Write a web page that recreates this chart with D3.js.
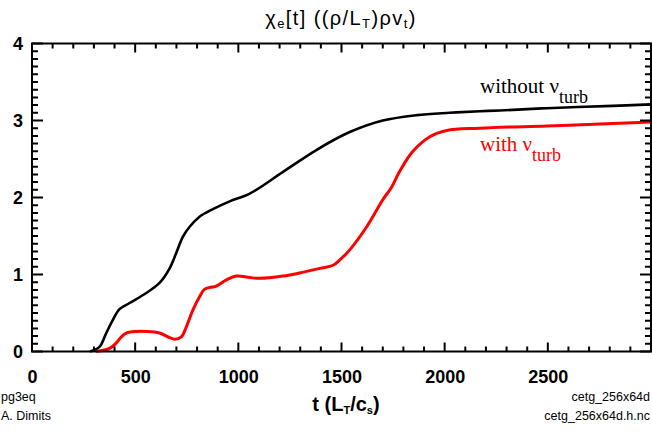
<!DOCTYPE html>
<html>
<head>
<meta charset="utf-8">
<script src="https://cdn.jsdelivr.net/npm/d3@7"></script>
<style>
  html, body { margin: 0; padding: 0; background: #fff; }
  svg { display: block; }
  .sans { font-family: "Liberation Sans", Arial, Helvetica, sans-serif; }
  .serif { font-family: "Liberation Serif", "Times New Roman", serif; }
</style>
</head>
<body>
<svg id="chart" width="652" height="432"></svg>
<script>
// Time axis (t in L_T/c_s) and heat diffusivity chi_e for the two runs
const tWithout = [281, 327, 360, 392, 424, 473, 554, 618, 667, 699, 731, 764, 812, 877, 958, 1055, 1215, 1380, 1540, 1700, 1865, 2025, 2170, 2268, 2495, 2815, 3000];
const chiWithout = [0, 0.06, 0.24, 0.41, 0.55, 0.63, 0.76, 0.89, 1.08, 1.28, 1.49, 1.62, 1.75, 1.85, 1.95, 2.05, 2.33, 2.62, 2.85, 3.0, 3.07, 3.10, 3.12, 3.13, 3.16, 3.19, 3.21];

const tWith = [311, 376, 408, 433, 457, 505, 554, 618, 667, 691, 724, 748, 780, 812, 837, 893, 942, 990, 1055, 1103, 1216, 1297, 1395, 1459, 1492, 1540, 1622, 1700, 1744, 1782, 1846, 1928, 2010, 2170, 2495, 2815, 3000];
const chiWith = [0, 0.04, 0.11, 0.19, 0.24, 0.26, 0.26, 0.24, 0.18, 0.16, 0.19, 0.32, 0.54, 0.71, 0.81, 0.85, 0.93, 0.98, 0.96, 0.95, 0.98, 1.02, 1.08, 1.12, 1.19, 1.32, 1.62, 1.97, 2.14, 2.34, 2.60, 2.79, 2.87, 2.90, 2.93, 2.96, 2.98];

const xMajor = [0, 500, 1000, 1500, 2000, 2500];
const yMajor = [0, 1, 2, 3, 4];
const xMinor = [100, 200, 300, 400, 600, 700, 800, 900, 1100, 1200, 1300, 1400, 1600, 1700, 1800, 1900, 2100, 2200, 2300, 2400, 2600, 2700, 2800, 2900];
const yMinor = [0.1, 0.2, 0.3, 0.4, 0.5, 0.6, 0.7, 0.8, 0.9, 1.1, 1.2, 1.3, 1.4, 1.5, 1.6, 1.7, 1.8, 1.9,
                2.1, 2.2, 2.3, 2.4, 2.5, 2.6, 2.7, 2.8, 2.9, 3.1, 3.2, 3.3, 3.4, 3.5, 3.6, 3.7, 3.8, 3.9];

const svg = d3.select("#chart");
const plotL = 32, plotR = 651, plotT = 43.5, plotB = 351.5;

const x = d3.scaleLinear().domain([0, 3000]).range([plotL, plotR]);
const y = d3.scaleLinear().domain([0, 4]).range([plotB, plotT]);

// tick labels
const xl = svg.append("g").attr("transform", `translate(0,${plotB})`)
  .call(d3.axisBottom(x).tickValues(xMajor).tickSize(0).tickPadding(19).tickFormat(d3.format("d")));
xl.select(".domain").remove();
xl.selectAll("text").attr("class", "sans").attr("font-size", 18).attr("font-weight", "bold").attr("fill", "#000");

const yl = svg.append("g").attr("transform", `translate(${plotL},0)`)
  .call(d3.axisLeft(y).tickValues(yMajor).tickSize(0).tickPadding(9).tickFormat(d3.format("d")));
yl.select(".domain").remove();
yl.selectAll("text").attr("class", "sans").attr("font-size", 18).attr("font-weight", "bold").attr("fill", "#000");

// curves
const line = d3.line().curve(d3.curveCatmullRom.alpha(0.5)).x(d => x(d[0])).y(d => y(d[1]));
svg.append("path").datum(d3.zip(tWithout, chiWithout))
  .attr("d", line).attr("fill", "none").attr("stroke", "#000").attr("stroke-width", 2.6);
svg.append("path").datum(d3.zip(tWith, chiWith))
  .attr("d", line).attr("fill", "none").attr("stroke", "#ff0000").attr("stroke-width", 3);

// frame
svg.append("rect").attr("x", plotL).attr("y", plotT)
  .attr("width", plotR - plotL).attr("height", plotB - plotT)
  .attr("fill", "none").attr("stroke", "#000").attr("stroke-width", 2);

// inward tick marks on all four sides
const tickPath = d3.path();
xMajor.concat(xMinor).forEach(v => {
  const len = xMajor.includes(v) ? 9 : 5;
  tickPath.moveTo(x(v), plotB); tickPath.lineTo(x(v), plotB - len);
  tickPath.moveTo(x(v), plotT); tickPath.lineTo(x(v), plotT + len);
});
yMajor.concat(yMinor).forEach(v => {
  const len = yMajor.includes(v) ? 11 : 6;
  tickPath.moveTo(plotL, y(v)); tickPath.lineTo(plotL + len, y(v));
  tickPath.moveTo(plotR, y(v)); tickPath.lineTo(plotR - len, y(v));
});
svg.append("path").attr("d", tickPath.toString())
  .style("fill", "none").style("stroke", "#000").style("stroke-width", "2px");

// title
const title = svg.append("text").attr("class", "sans").attr("x", 341).attr("y", 25)
  .attr("text-anchor", "middle").attr("font-size", 20).attr("letter-spacing", 1.4).attr("fill", "#000");
title.append("tspan").text("χ");
title.append("tspan").attr("font-size", 13).attr("dy", 3).text("e");
title.append("tspan").attr("dy", -3).text("[t]  ((ρ/L");
title.append("tspan").attr("font-size", 13).attr("dy", 3).text("T");
title.append("tspan").attr("dy", -3).text(")ρv");
title.append("tspan").attr("font-size", 13).attr("dy", 3).text("t");
title.append("tspan").attr("dy", -3).text(")");

// x axis title
const xt = svg.append("text").attr("class", "sans").attr("x", 346).attr("y", 411)
  .attr("text-anchor", "middle").attr("font-size", 20).attr("font-weight", "bold").attr("fill", "#000");
xt.append("tspan").text("t  (L");
xt.append("tspan").attr("font-size", 11).attr("dy", 3).text("T");
xt.append("tspan").attr("dy", -3).text("/c");
xt.append("tspan").attr("font-size", 11).attr("dy", 3).text("s");
xt.append("tspan").attr("dy", -3).text(")");

// footer labels
const foot = [
  { s: "pg3eq", x: 1, y: 401, a: "start" },
  { s: "A. Dimits", x: 1, y: 420, a: "start" },
  { s: "cetg_256x64d", x: 650, y: 401, a: "end" },
  { s: "cetg_256x64d.h.nc", x: 650, y: 420, a: "end" }
];
svg.selectAll("text.foot").data(foot).enter().append("text")
  .attr("class", "sans foot").attr("x", d => d.x).attr("y", d => d.y)
  .attr("text-anchor", d => d.a).attr("font-size", 12.5).attr("fill", "#000").text(d => d.s);

// curve annotations
function annot(label, xp, yp, color) {
  const t = svg.append("text").attr("class", "serif").attr("x", xp).attr("y", yp)
    .attr("font-size", 21).attr("fill", color);
  t.append("tspan").text(label + " ν");
  t.append("tspan").attr("font-size", 18).attr("dy", 10).text("turb");
}
annot("without", 480, 93, "#000");
annot("with", 480, 151, "#ff0000");
</script>
</body>
</html>
